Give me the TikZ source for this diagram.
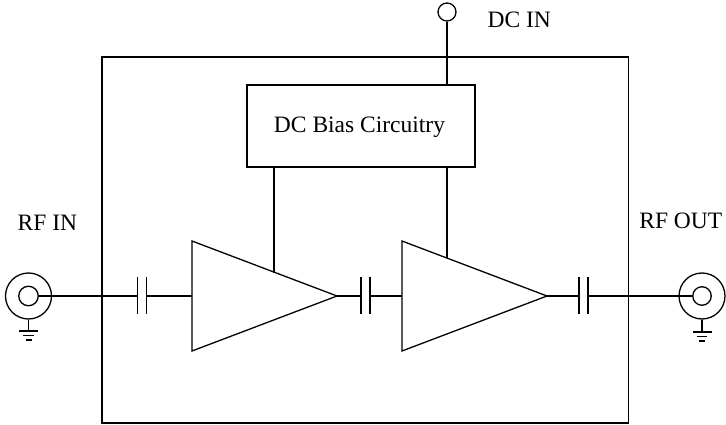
\documentclass[tikz,border=0pt]{standalone}
\usepackage{fontspec}
\setmainfont{Liberation Serif}
\begin{document}
\begin{tikzpicture}[x=1pt,y=-1pt,line width=1.3pt,
  lbl/.style={inner sep=0pt,anchor=base west,font=\fontsize{23.5}{28}\selectfont},
  wire/.style={line width=1.3pt},
  plate/.style={line width=1.3pt},
  box/.style={draw,line width=1.3pt}]
\useasboundingbox (0,0) rectangle (726,425);
% outer box
\draw[box] (102,57) rectangle (628.5,423);
% DC bias box
\node[box,minimum width=228pt,minimum height=82pt,inner sep=0pt] (bias) at (361,126) {};
\node[lbl,anchor=base] (biastxt) at (359.5,133) {DC Bias Circuitry};
% DC IN
\node[draw,circle,minimum size=18pt,inner sep=0pt,line width=1.3pt] (dcin) at (447,12) {};
\coordinate (dcb) at (447,85);
\draw[wire] (dcin.south) -- (dcb);
\node[lbl] (dcintxt) at (487,28) {DC IN};
% amplifiers
\coordinate (a1t) at (192,241); \coordinate (a1b) at (192,351); \coordinate (a1o) at (337,296);
\coordinate (a1i) at (192,296);
\coordinate (a2t) at (402,241); \coordinate (a2b) at (402,351); \coordinate (a2o) at (547,296);
\coordinate (a2i) at (402,296);
\draw[line join=miter] (a1t) -- (a1b) -- (a1o) -- cycle;
\draw[line join=miter] (a2t) -- (a2b) -- (a2o) -- cycle;
% bias feeds
\coordinate (f1top) at (274,167); \coordinate (f1bot) at (274,272.5);
\coordinate (f2top) at (447,167); \coordinate (f2bot) at (447,258);
\draw[wire] (f1top) -- (f1bot);
\draw[wire] (f2top) -- (f2bot);
% capacitors
\foreach \n/\x in {c1/142.2, c2/365.5, c3/583.5}{
  \coordinate (\n l) at (\x-4.5,296);
  \coordinate (\n r) at (\x+4.5,296);
  \draw[plate] (\x-4.5,277) -- (\x-4.5,314);
  \draw[plate] (\x+4.5,277) -- (\x+4.5,314);
}
% RF IN connector
\node[draw,circle,minimum size=46pt,inner sep=0pt,line width=1.3pt] (rfin) at (28.5,296) {};
\node[draw,circle,minimum size=19.5pt,inner sep=0pt,line width=1.3pt] (rfinc) at (28.5,296) {};
\coordinate (gin) at (28.5,331);
\draw[wire] (rfin.south) -- (gin);
\draw[wire] (19,331) -- (38,331);
\draw[wire] (23,335.5) -- (34,335.5);
\draw[wire] (25.5,340) -- (31.5,340);
\node[lbl] (rfintxt) at (17,230) {RF IN};
% RF OUT connector
\node[draw,circle,minimum size=46pt,inner sep=0pt,line width=1.3pt] (rfout) at (702,296) {};
\node[draw,circle,minimum size=18.5pt,inner sep=0pt,line width=1.3pt] (rfoutc) at (702,296) {};
\coordinate (gout) at (702,332);
\draw[wire] (rfout.south) -- (gout);
\draw[wire] (692.5,332) -- (711.5,332);
\draw[wire] (697,336.5) -- (707,336.5);
\draw[wire] (699,341) -- (705,341);
\node[lbl] (rfouttxt) at (638.7,229) {RF OUT};
% signal wires
\draw[wire] (rfinc.east) -- (c1l);
\draw[wire] (c1r) -- (a1i);
\draw[wire] (a1o) -- (c2l);
\draw[wire] (c2r) -- (a2i);
\draw[wire] (a2o) -- (c3l);
\draw[wire] (c3r) -- (rfoutc.west);
\end{tikzpicture}
\end{document}
